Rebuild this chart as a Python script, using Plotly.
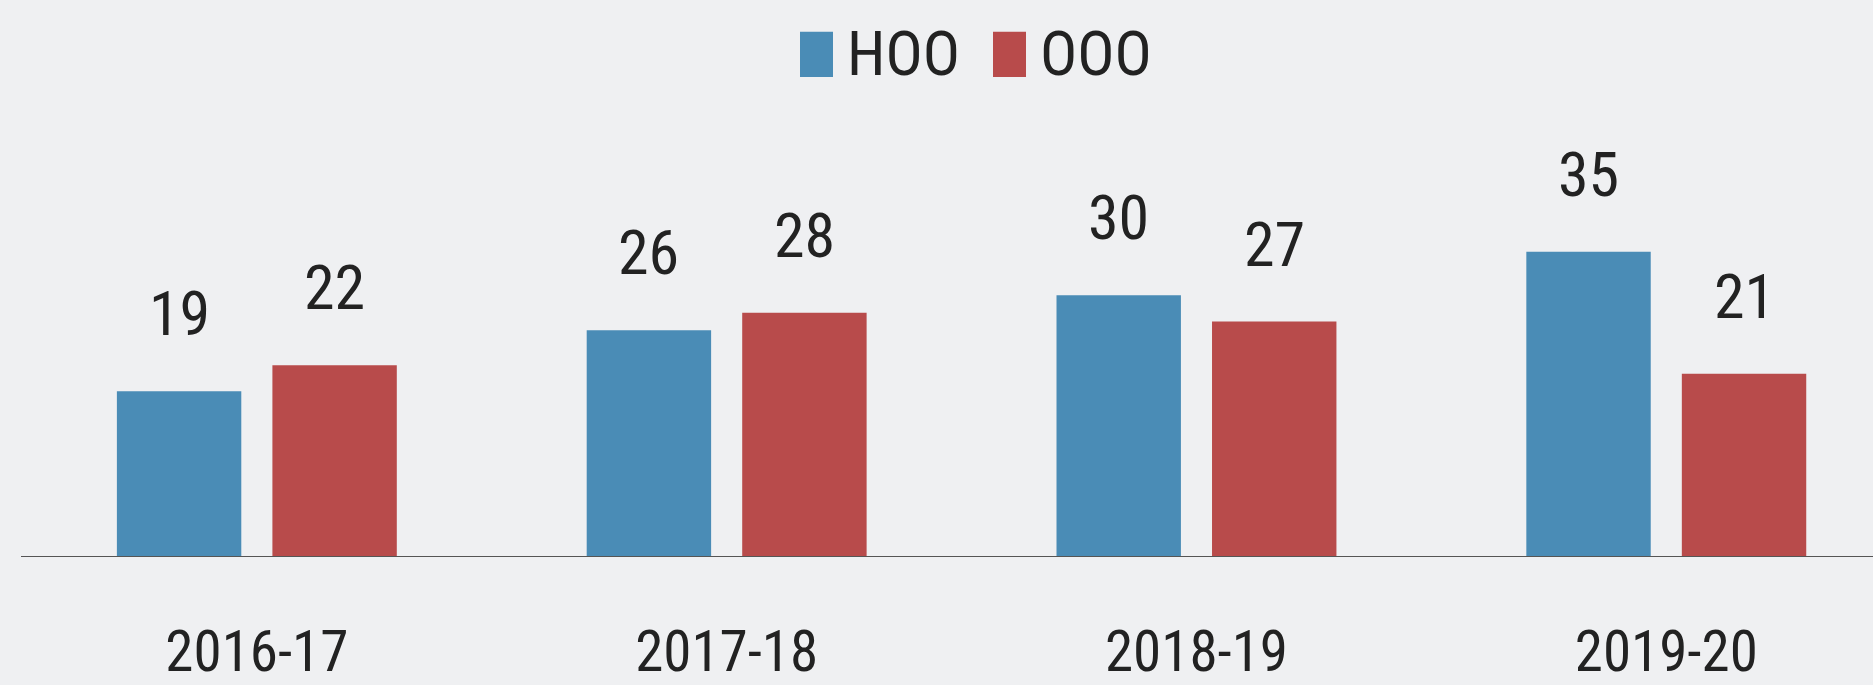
import plotly.graph_objects as go

categories = ["2016-17", "2017-18", "2018-19", "2019-20"]
series_names = ["HOO", "OOO"]
hoo_values = [19, 26, 30, 35]
ooo_values = [22, 28, 27, 21]
colors = ["#4a8cb6", "#b84b4b"]

FONT = "Liberation Sans Narrow, Arial Narrow, Roboto Condensed, sans-serif"
BG = "#eff0f2"

fig = go.Figure()
for name, vals, col in zip(series_names, [hoo_values, ooo_values], colors):
    fig.add_trace(go.Bar(
        x=categories, y=vals, name=name, marker=dict(color=col, line=dict(width=0)),
        showlegend=False, hoverinfo="x+y+name",
    ))

# value labels above bars
for vals, shift in zip([hoo_values, ooo_values], [-77.75, 77.75]):
    for c, v in zip(categories, vals):
        fig.add_annotation(x=c, y=v, text=str(v), showarrow=False, xshift=shift,
                           yanchor="bottom", yshift=39,
                           font=dict(family=FONT, size=62, color="#222222"))

# manual legend (large squares like the reference)
W = 1852.0
H = 455.0
def px(x):
    return (x - 21) / W
def py(y):
    return (555 - y) / H
legend_items = [(800, 845), (993, 1038)]
for (sx, tx), name, col in zip(legend_items, series_names, colors):
    fig.add_shape(type="rect", xref="paper", yref="paper",
                  x0=px(sx), x1=px(sx + 33), y0=py(77), y1=py(32),
                  fillcolor=col, line=dict(width=0))
    fig.add_annotation(xref="paper", yref="paper", x=px(tx), y=py(54),
                       xanchor="left", yanchor="middle", text=name, showarrow=False,
                       font=dict(family=FONT, size=62, color="#222222"))

fig.update_layout(
    width=1873, height=685,
    margin=dict(l=21, r=0, t=100, b=122),
    paper_bgcolor=BG, plot_bgcolor=BG,
    barmode="group", bargap=0.338, bargroupgap=0.2,
    showlegend=False,
    xaxis=dict(type="category", range=[-0.502, 3.44], showgrid=False, zeroline=False,
               showline=False, ticks="", ticklabelstandoff=56,
               tickfont=dict(family=FONT, size=57, color="#222222")),
    yaxis=dict(range=[0, 52.4], visible=False, showgrid=False, zeroline=False),
)
fig.add_shape(type="line", xref="paper", yref="y", x0=0, x1=1, y0=0, y1=0,
              line=dict(color="#555555", width=2))

fig.write_html("out.html", config={"displayModeBar": False},
               post_script="document.body.style.margin='0';document.body.style.background='%s';document.body.style.overflow='hidden';" % BG)
